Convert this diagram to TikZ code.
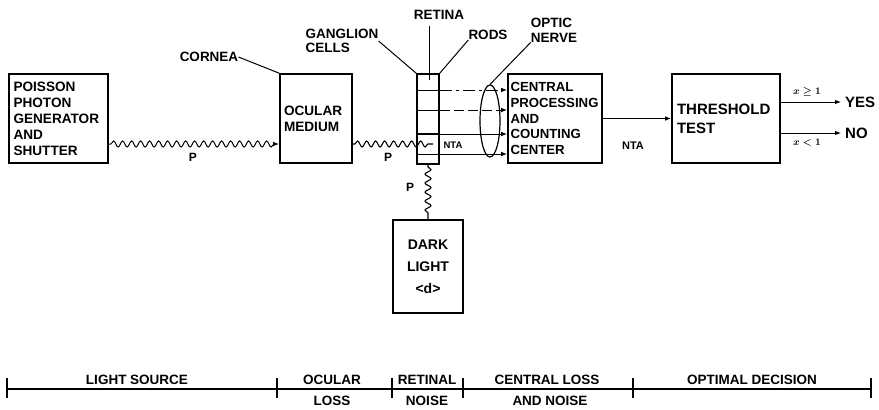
\documentclass[tikz,border=0pt]{standalone}
\usepackage{fontspec}
\setmainfont{Liberation Sans}
\usetikzlibrary{shapes.geometric,decorations.pathmorphing,arrows.meta}
\newcommand{\myfs}[2]{\fontsize{#1}{#2}\selectfont\bfseries}
\begin{document}
\begin{tikzpicture}[x=1pt,y=-1pt,
  box/.style={draw, line width=1.6pt, inner sep=0pt, font=\myfs{13.6}{16}},
  lbl/.style={inner sep=0pt, font=\myfs{13.5}{13.5}},
  conn/.style={line width=1pt},
  wave/.style={decorate, decoration={snake, amplitude=3pt, segment length=9pt, pre length=2pt, post length=5pt}, line width=1.1pt},
  arr/.style={-{Latex[length=6pt,width=4.5pt]}, line width=1pt},
  scl/.style={inner sep=0pt, font=\myfs{13.5}{13.5}}
]
\useasboundingbox (0,0) rectangle (879,410);
\fill[white] (0,0) rectangle (879,410);

% boxes
\node[box, minimum width=99pt, minimum height=89pt, text width=90pt, align=left] (src) at (58.5,118.5) {POISSON\\PHOTON\\GENERATOR\\AND\\SHUTTER};
\node[box, minimum width=72pt, minimum height=89pt, text width=64pt, align=left] (ocu) at (316,118.5) {OCULAR\\MEDIUM};
\node[draw, line width=1.6pt, minimum width=22pt, minimum height=90pt, inner sep=0pt] (col) at (428,119) {};
\node[box, minimum width=94pt, minimum height=89pt, text width=89pt, align=left, font=\myfs{13.2}{15.8}] (cpc) at (555,118.5) {CENTRAL\\PROCESSING\\AND\\COUNTING\\CENTER};
\node[box, minimum width=108pt, minimum height=89pt, text width=98pt, align=left, font=\myfs{15}{19}] (thr) at (726,118.5) {THRESHOLD\\TEST};
\node[box, minimum width=70pt, minimum height=93pt, align=center, font=\myfs{14}{22}] (dark) at (428,266.5) {DARK\\LIGHT\\<d>};
\node[draw, ellipse, line width=1.2pt, minimum width=20pt, minimum height=72pt, inner sep=0pt] (nerve) at (490,121) {};

% helper levels
\coordinate (wy) at (0,144);
\coordinate (r1) at (0,90);
\coordinate (r2) at (0,110);
\coordinate (r3) at (0,134);
\coordinate (r4) at (0,154);
\coordinate (oy1) at (0,102);
\coordinate (oy2) at (0,133);
\coordinate (wend) at (433,144);

% retina dividers
\draw[conn] (col.west |- r1) -- (col.east |- r1);
\draw[conn] (col.west |- r2) -- (col.east |- r2);
\draw[line width=1.6pt] (col.west |- r3) -- (col.east |- r3);
\draw[conn] (col.west |- r4) -- (col.east |- r4);

% photon paths
\draw[wave, arr] (src.east |- wy) -- (ocu.west |- wy);
\draw[wave] (ocu.east |- wy) -- (wend);
\draw[wave] (col.south) -- (dark.north);
\node[lbl, font=\myfs{12}{12}] (p1) at (193,157) {P};
\node[lbl, font=\myfs{12}{12}] (p2) at (388,157) {P};
\node[lbl, font=\myfs{12}{12}] (p3) at (410,187) {P};

% retina to central
\draw[arr, dash pattern=on 12pt off 4pt on 3pt off 4pt] (col.east |- r1) -- (cpc.west |- r1);
\draw[arr, dash pattern=on 10pt off 4pt] (col.east |- r2) -- (cpc.west |- r2);
\draw[arr] (col.east |- r3) -- (cpc.west |- r3);
\draw[arr] (col.east |- r4) -- (cpc.west |- r4);
\node[lbl, font=\myfs{9.5}{9.5}] (nta1) at (453,145) {NTA};

% central to threshold
\draw[arr] (cpc.east) -- (thr.west);
\node[lbl, font=\myfs{11}{11}] (nta2) at (633,146) {NTA};

% outputs
\node[lbl, anchor=west, font=\myfs{15}{15}] (yes) at (845,102) {YES};
\node[lbl, anchor=west, font=\myfs{15}{15}] (no) at (845,133) {NO};
\draw[arr, shorten >=4pt] (thr.east |- oy1) -- (yes.west);
\draw[arr, shorten >=4pt] (thr.east |- oy2) -- (no.west);
\node[inner sep=0pt, font=\fontsize{10}{10}\selectfont\boldmath] (ge) at (807,92) {$x\geq 1$};
\node[inner sep=0pt, font=\fontsize{10}{10}\selectfont\boldmath] (lt) at (807,143) {$x<1$};

% labels
\node[lbl] (cornea) at (209,57) {CORNEA};
\draw[conn] (cornea.east) -- (ocu.north west);
\node[lbl, align=left] (gang) at (342,41) {GANGLION\\CELLS};
\draw[conn] (gang.east) -- (col.north west);
\node[lbl] (ret) at (439,15) {RETINA};
\coordinate (rt) at (429,80);
\draw[conn, shorten <=6pt] (ret.south -| rt) -- (rt);
\node[lbl] (rods) at (488,35) {RODS};
\draw[conn] (rods.south west) -- (col.north east);
\node[lbl, align=left, font=\myfs{13.5}{15}] (optic) at (554,30) {OPTIC\\NERVE};
\draw[conn] (optic.south west) -- (nerve.north);

% bottom scale
\coordinate (t0) at (7,389);
\coordinate (t1) at (277,389);
\coordinate (t2) at (392,389);
\coordinate (t3) at (463,389);
\coordinate (t4) at (633,389);
\coordinate (t5) at (871,389);
\draw[line width=1.6pt] (t0) -- (t5);
\foreach \t in {t0,t1,t2,t3,t4,t5}
  \draw[line width=1.2pt] ([yshift=11pt]\t) -- ([yshift=-9pt]\t);
\node[scl] (s1) at (137,380) {LIGHT SOURCE};
\node[scl] (s2a) at (332,380) {OCULAR};
\node[scl] (s2b) at (332,401) {LOSS};
\node[scl] (s3a) at (427,380) {RETINAL};
\node[scl] (s3b) at (427,401) {NOISE};
\node[scl] (s4a) at (547,380) {CENTRAL LOSS};
\node[scl] (s4b) at (550,401) {AND NOISE};
\node[scl] (s5) at (752,380) {OPTIMAL DECISION};
\end{tikzpicture}
\end{document}
